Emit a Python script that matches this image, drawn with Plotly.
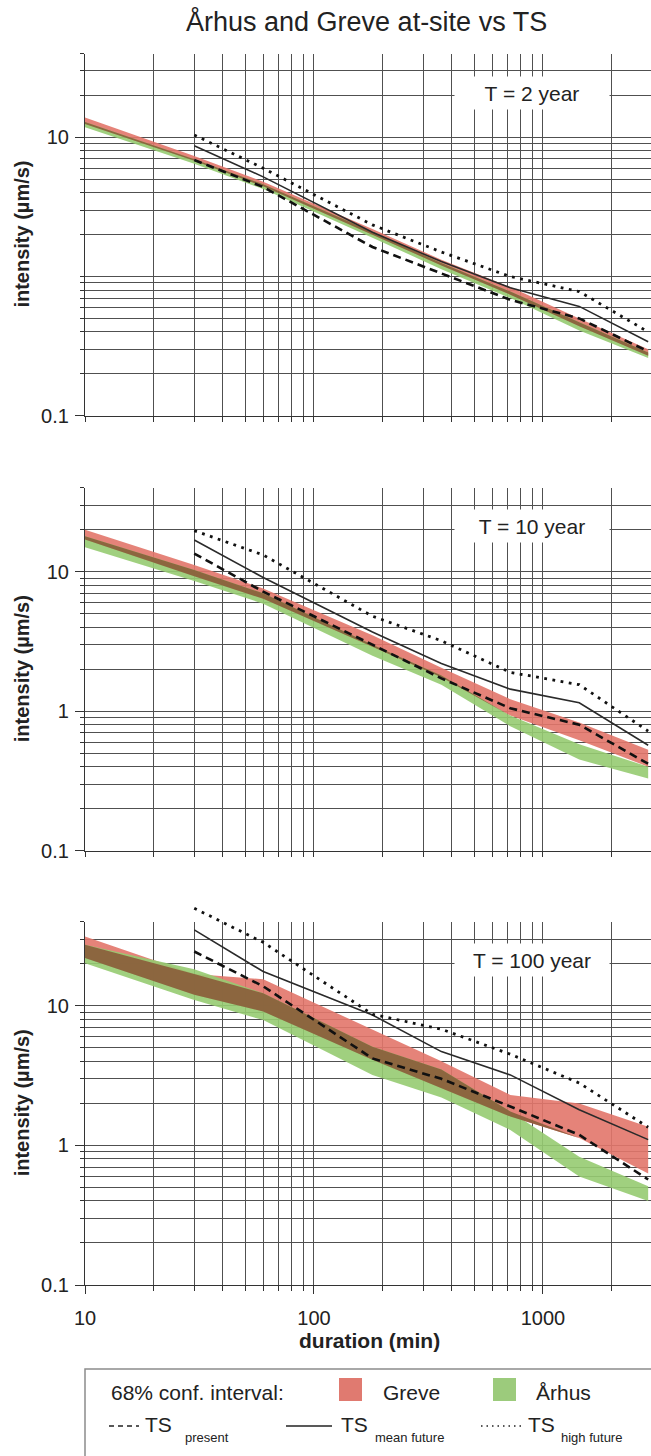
import numpy as np
import plotly.graph_objects as go

W, H = 651, 1456
FONT = "Liberation Sans, Arial, sans-serif"

# ---------------- data ----------------
band_durations = [10, 30, 60, 180, 360, 720, 1440, 2880]
ts_durations = [30, 60, 180, 360, 720, 1440, 2880]

x_major = [10, 100, 1000]
x_major_text = ["10", "100", "1000"]
x_minor = [20, 30, 40, 50, 60, 70, 80, 90, 200, 300, 400, 500, 600, 700, 800, 900, 2000]
y_minor = [0.2, 0.3, 0.4, 0.5, 0.6, 0.7, 0.8, 0.9, 2, 3, 4, 5, 6, 7, 8, 9, 20, 30, 40]

panel_titles = ["T = 2 year", "T = 10 year", "T = 100 year"]
y_tickvals = [[0.1, 10], [0.1, 1, 10], [0.1, 1, 10]]
y_ticktext = [["0.1", "10"], ["0.1", "1", "10"], ["0.1", "1", "10"]]

# T = 2 year
greve_lo_2 = [12.5, 6.8, 4.45, 2.0, 1.2, 0.74, 0.44, 0.27]
greve_hi_2 = [13.9, 7.35, 4.8, 2.2, 1.32, 0.84, 0.50, 0.30]
aarhus_lo_2 = [11.8, 6.45, 4.25, 1.9, 1.13, 0.70, 0.41, 0.26]
aarhus_hi_2 = [12.9, 6.95, 4.6, 2.1, 1.25, 0.78, 0.47, 0.285]
ts_present_2 = [6.87, 4.4, 1.63, 1.05, 0.68, 0.50, 0.29]
ts_mean_2 = [8.7, 5.2, 2.08, 1.28, 0.83, 0.61, 0.34]
ts_high_2 = [10.4, 6.0, 2.35, 1.5, 1.0, 0.78, 0.40]

# T = 10 year
greve_lo_10 = [17.0, 9.3, 6.4, 2.9, 1.75, 0.93, 0.62, 0.40]
greve_hi_10 = [20.0, 11.2, 7.6, 3.5, 2.05, 1.22, 0.83, 0.53]
aarhus_lo_10 = [15.0, 8.6, 5.9, 2.5, 1.55, 0.78, 0.45, 0.33]
aarhus_hi_10 = [18.0, 10.3, 7.0, 3.0, 1.8, 0.93, 0.58, 0.40]
ts_present_10 = [13.5, 7.2, 3.0, 1.72, 1.05, 0.80, 0.42]
ts_mean_10 = [16.9, 9.1, 3.7, 2.2, 1.44, 1.15, 0.57]
ts_high_10 = [19.7, 13.2, 4.8, 3.2, 1.9, 1.55, 0.72]

# T = 100 year
greve_lo_100 = [22.0, 12.0, 9.1, 4.1, 2.57, 1.61, 1.13, 0.63]
greve_hi_100 = [31.4, 16.9, 15.5, 6.7, 4.0, 2.3, 2.0, 1.36]
aarhus_lo_100 = [20.2, 11.0, 7.9, 3.2, 2.2, 1.29, 0.60, 0.40]
aarhus_hi_100 = [27.4, 18.3, 12.3, 5.1, 3.5, 1.75, 0.83, 0.51]
ts_present_100 = [24.5, 13.8, 4.2, 3.0, 1.9, 1.19, 0.57]
ts_mean_100 = [35.0, 17.6, 8.6, 4.7, 3.2, 1.8, 1.1]
ts_high_100 = [50.0, 28.5, 8.7, 6.8, 4.5, 2.8, 1.35]

panels = [
    (greve_lo_2, greve_hi_2, aarhus_lo_2, aarhus_hi_2, ts_present_2, ts_mean_2, ts_high_2),
    (greve_lo_10, greve_hi_10, aarhus_lo_10, aarhus_hi_10, ts_present_10, ts_mean_10, ts_high_10),
    (greve_lo_100, greve_hi_100, aarhus_lo_100, aarhus_hi_100, ts_present_100, ts_mean_100, ts_high_100),
]

# ---------------- style ----------------
GREVE = "rgba(226,118,106,0.9)"
AARHUS = "rgba(150,203,113,0.9)"
OVERLAP = "rgba(138,92,58,0.9)"
GREVE_SW = "#e07a70"
AARHUS_SW = "#9ccb7c"
GRID = "#505050"

x_left_px = 85
panel_px = [(53.5, 415.7), (487.7, 850.7), (921.7, 1285.0)]
x_range = [1.0, np.log10(2963)]
y_range = [-1.0, np.log10(40) + 0.0006]

fig = go.Figure()
layout = dict(
    width=W, height=H, autosize=False,
    margin=dict(l=0, r=0, t=0, b=0, pad=0, autoexpand=False),
    paper_bgcolor="white", plot_bgcolor="rgba(0,0,0,0)",
    showlegend=False,
    font=dict(family=FONT, color="#222222"),
)

def ydom(top, bot):
    return [1 - bot / H, 1 - top / H]

for i, (top, bot) in enumerate(panel_px):
    n = i + 1
    xa = "xaxis" if n == 1 else f"xaxis{n}"
    ya = "yaxis" if n == 1 else f"yaxis{n}"
    sfx = "" if n == 1 else str(n)
    ymin = list(y_minor) + ([1] if n == 1 else [])
    if n == 3:
        xmaj, xmajtext, xmin = x_major, x_major_text, x_minor
    else:
        xmaj, xmajtext, xmin = [], [], sorted(x_minor + x_major)
    layout[xa] = dict(
        type="log", domain=[x_left_px / W, 1.0], range=x_range, anchor=f"y{sfx}",
        tickmode="array", tickvals=xmaj, ticktext=xmajtext,
        showticklabels=(n == 3), ticks="outside", ticklen=8, tickwidth=1.2, tickcolor="#333",
        showgrid=True, gridcolor=GRID, gridwidth=1,
        showline=True, linecolor="#333", linewidth=1.2,
        tickfont=dict(size=20, family=FONT, color="#222"), ticklabelstandoff=7,
        minor=dict(tickmode="array", tickvals=xmin, ticks="outside", ticklen=5,
                   tickcolor="#333", tickwidth=1, showgrid=True, gridcolor=GRID, gridwidth=1),
        zeroline=False, fixedrange=True, automargin=False,
    )
    layout[ya] = dict(
        type="log", domain=ydom(top, bot), range=y_range, anchor=f"x{sfx}",
        tickmode="array", tickvals=y_tickvals[i], ticktext=y_ticktext[i],
        ticks="outside", ticklen=9, tickwidth=1.2, tickcolor="#333",
        showgrid=True, gridcolor=GRID, gridwidth=1,
        showline=True, linecolor="#333", linewidth=1.2,
        tickfont=dict(size=20, family=FONT, color="#222"), ticklabelstandoff=2,
        minor=dict(tickmode="array", tickvals=ymin, ticks="outside", ticklen=4,
                   tickcolor="#333", tickwidth=1, showgrid=True, gridcolor=GRID, gridwidth=1),
        zeroline=False, fixedrange=True, automargin=False,
    )

# overlay axes for panel 3 TS lines (extend above the frame, same scale)
t3, b3 = panel_px[2]
d3 = ydom(t3, b3)
per_dec = (d3[1] - d3[0]) * H / (y_range[1] - y_range[0])
ext_px = 22
layout["xaxis4"] = dict(type="log", domain=[x_left_px / W, 1.0], range=x_range, anchor="y4",
                        visible=False, showgrid=False, fixedrange=True, automargin=False)
layout["yaxis4"] = dict(type="log", domain=[d3[0], d3[1] + ext_px / H],
                        range=[y_range[0], y_range[1] + ext_px / per_dec], anchor="x4",
                        visible=False, showgrid=False, fixedrange=True, automargin=False)

def band(x, lo, hi, color, xa, ya):
    return go.Scatter(x=list(x) + list(x)[::-1], y=list(hi) + list(lo)[::-1],
                      fill="toself", fillcolor=color, mode="lines",
                      line=dict(width=0, color=color), hoverinfo="skip",
                      xaxis=xa, yaxis=ya)

for i, (glo, ghi, alo, ahi, tp, tm, th) in enumerate(panels):
    n = i + 1
    xa = "x" if n == 1 else f"x{n}"
    ya = "y" if n == 1 else f"y{n}"
    fig.add_trace(band(band_durations, glo, ghi, GREVE, xa, ya))
    fig.add_trace(band(band_durations, alo, ahi, AARHUS, xa, ya))
    olo = np.maximum(glo, alo)
    ohi = np.maximum(np.minimum(ghi, ahi), olo)
    fig.add_trace(band(band_durations, olo, ohi, OVERLAP, xa, ya))
    lxa, lya = (xa, ya) if n < 3 else ("x4", "y4")
    fig.add_trace(go.Scatter(x=ts_durations, y=tp, mode="lines", hoverinfo="skip",
                             line=dict(color="#111", width=2.6, dash="8px,5px"), xaxis=lxa, yaxis=lya))
    fig.add_trace(go.Scatter(x=ts_durations, y=tm, mode="lines", hoverinfo="skip",
                             line=dict(color="#2a2a2a", width=1.6), xaxis=lxa, yaxis=lya))
    fig.add_trace(go.Scatter(x=ts_durations, y=th, mode="lines", hoverinfo="skip",
                             line=dict(color="#111", width=2.8, dash="2.8px,5.5px"), xaxis=lxa, yaxis=lya))

annotations = []
annotations.append(dict(text="Århus and Greve at-site vs TS", x=366 / W, y=1 - 22 / H,
                        xref="paper", yref="paper", xanchor="center", yanchor="middle",
                        showarrow=False, font=dict(size=27, family=FONT, color="#222")))
label_y_px = [93, 526, 960]
for i, t in enumerate(panel_titles):
    annotations.append(dict(text=t, x=532 / W, y=1 - label_y_px[i] / H, xref="paper", yref="paper",
                            xanchor="center", yanchor="middle", showarrow=False,
                            bgcolor="white", width=152, height=30,
                            font=dict(size=21, family=FONT, color="#222")))
for (top, bot) in panel_px:
    annotations.append(dict(text="<b>intensity (µm/s)</b>", x=22 / W, y=1 - (top + bot) / 2 / H,
                            xref="paper", yref="paper", xanchor="center", yanchor="middle",
                            textangle=-90, showarrow=False,
                            font=dict(size=20, family=FONT, color="#222")))
annotations.append(dict(text="<b>duration (min)</b>", x=369 / W, y=1 - 1340 / H,
                        xref="paper", yref="paper", xanchor="center", yanchor="middle",
                        showarrow=False, font=dict(size=21, family=FONT, color="#222")))

shapes = []
shapes.append(dict(type="rect", xref="paper", yref="paper", x0=85 / W, x1=1.02,
                   y0=-0.02, y1=1 - 1369 / H, line=dict(color="#8c8c8c", width=1.5),
                   fillcolor="rgba(0,0,0,0)", layer="above"))
shapes.append(dict(type="rect", xref="paper", yref="paper", x0=339 / W, x1=362 / W,
                   y0=1 - 1401 / H, y1=1 - 1378 / H, line=dict(width=0), fillcolor=GREVE_SW))
shapes.append(dict(type="rect", xref="paper", yref="paper", x0=493 / W, x1=516 / W,
                   y0=1 - 1401 / H, y1=1 - 1378 / H, line=dict(width=0), fillcolor=AARHUS_SW))
ly = 1 - 1426 / H
shapes.append(dict(type="line", xref="paper", yref="paper", x0=109 / W, x1=139 / W, y0=ly, y1=ly,
                   line=dict(color="#222", width=1.5, dash="5px,4px")))
shapes.append(dict(type="line", xref="paper", yref="paper", x0=286 / W, x1=332 / W, y0=ly, y1=ly,
                   line=dict(color="#222", width=1.5)))
shapes.append(dict(type="line", xref="paper", yref="paper", x0=481 / W, x1=523 / W, y0=ly, y1=ly,
                   line=dict(color="#222", width=1.5, dash="1.5px,4px")))

leg_font = dict(size=21, family=FONT, color="#222")
sub_font = dict(size=13, family=FONT, color="#222")
r1 = 1 - 1392 / H
for txt, xpx in [("68% conf. interval:", 109), ("Greve", 381), ("Århus", 534)]:
    annotations.append(dict(text=txt, x=xpx / W, y=r1, xref="paper", yref="paper",
                            xanchor="left", yanchor="middle", showarrow=False, font=leg_font))
r2 = 1 - 1424 / H
r2s = 1 - 1437 / H
for txt, xpx in [("TS", 143), ("TS", 339), ("TS", 526)]:
    annotations.append(dict(text=txt, x=xpx / W, y=r2, xref="paper", yref="paper",
                            xanchor="left", yanchor="middle", showarrow=False, font=leg_font))
for txt, xpx in [("present", 183), ("mean future", 373), ("high future", 559)]:
    annotations.append(dict(text=txt, x=xpx / W, y=r2s, xref="paper", yref="paper",
                            xanchor="left", yanchor="middle", showarrow=False, font=sub_font))

layout["annotations"] = annotations
layout["shapes"] = shapes
fig.update_layout(**layout)
fig.write_html("out.html", config={"displayModeBar": False, "responsive": False},
               post_script="document.body.style.margin='0';document.body.style.overflow='hidden';")
